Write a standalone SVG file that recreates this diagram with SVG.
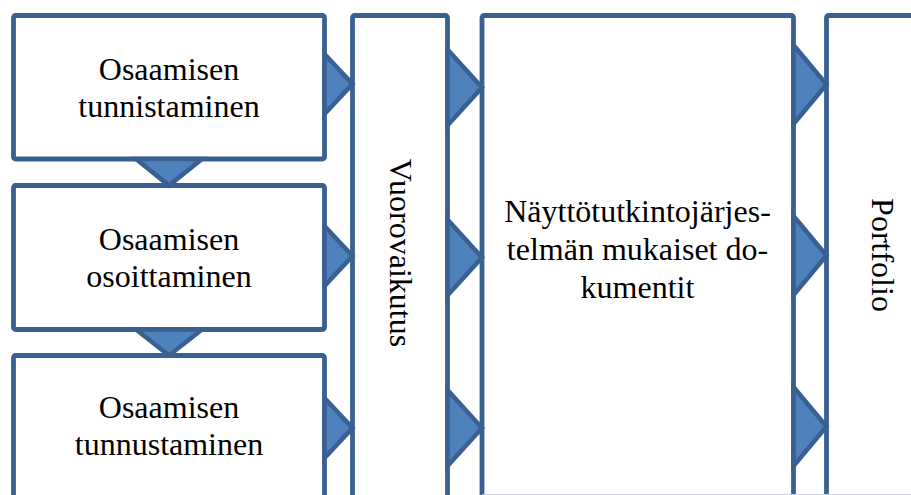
<svg xmlns="http://www.w3.org/2000/svg" width="911" height="495" viewBox="0 0 911 495">
<style>
.box{fill:#ffffff;stroke:#3A6092;stroke-width:4.8;stroke-linejoin:round}
.arr{fill:#4F81BD;stroke:#3A6092;stroke-width:4.5;stroke-linejoin:miter}
text{font-family:'Liberation Serif','Times New Roman',Times,serif;font-size:32px;fill:#000000;text-anchor:middle}
</style>
<rect width="911" height="495" fill="#ffffff"/>
<g id="box1"><rect class="box" x="13.5" y="15.5" width="311" height="143.5" rx="2"/>
<text x="169" y="80" font-family="Liberation Serif, serif">Osaamisen</text><text x="169" y="117" font-family="Liberation Serif, serif">tunnistaminen</text></g>
<g id="box2"><rect class="box" x="13.5" y="185.5" width="311" height="144" rx="2"/>
<text x="169" y="250" font-family="Liberation Serif, serif">Osaamisen</text><text x="169" y="287" font-family="Liberation Serif, serif">osoittaminen</text></g>
<g id="box3"><rect class="box" x="13.5" y="355.5" width="311" height="144" rx="2"/>
<text x="169" y="418" font-family="Liberation Serif, serif">Osaamisen</text><text x="169" y="455" font-family="Liberation Serif, serif">tunnustaminen</text></g>
<g id="vuorovaikutus"><rect class="box" x="352.5" y="15.5" width="95" height="485" rx="2"/>
<text transform="translate(390,253) rotate(90)" font-family="Liberation Serif, serif">Vuorovaikutus</text></g>
<g id="dokumentit"><rect class="box" x="482" y="15.5" width="311.5" height="485" rx="2"/>
<text x="637.5" y="222" font-family="Liberation Serif, serif">Näyttötutkintojärjes-</text>
<text x="637.5" y="260" font-family="Liberation Serif, serif">telmän mukaiset do-</text>
<text x="637.5" y="298" font-family="Liberation Serif, serif">kumentit</text></g>
<g id="portfolio"><rect class="box" x="826.5" y="15.5" width="140" height="485" rx="2"/>
<text transform="translate(872,255) rotate(90)" font-family="Liberation Serif, serif">Portfolio</text></g>
<line x1="482" y1="494.5" x2="911" y2="494.5" stroke="#c9d3e3" stroke-width="1"/>
<g id="connectors">
<polygon class="arr" points="136,159 202,159 169,185.5"/>
<polygon class="arr" points="136,329.5 202,329.5 169,355.5"/>
<polygon class="arr" points="324.5,54 352.5,84 324.5,114"/>
<polygon class="arr" points="324.5,226 352.5,256 324.5,286"/>
<polygon class="arr" points="324.5,398 352.5,428 324.5,458"/>
<polygon class="arr" points="447.5,49.5 482,87.5 447.5,125.5"/>
<polygon class="arr" points="447.5,219.5 482,257.5 447.5,295.5"/>
<polygon class="arr" points="447.5,390 482,428 447.5,466"/>
<polygon class="arr" points="793.5,45 826.5,84.5 793.5,124"/>
<polygon class="arr" points="793.5,216 826.5,255.5 793.5,295"/>
<polygon class="arr" points="793.5,387 826.5,426.5 793.5,466"/>
</g>
</svg>
